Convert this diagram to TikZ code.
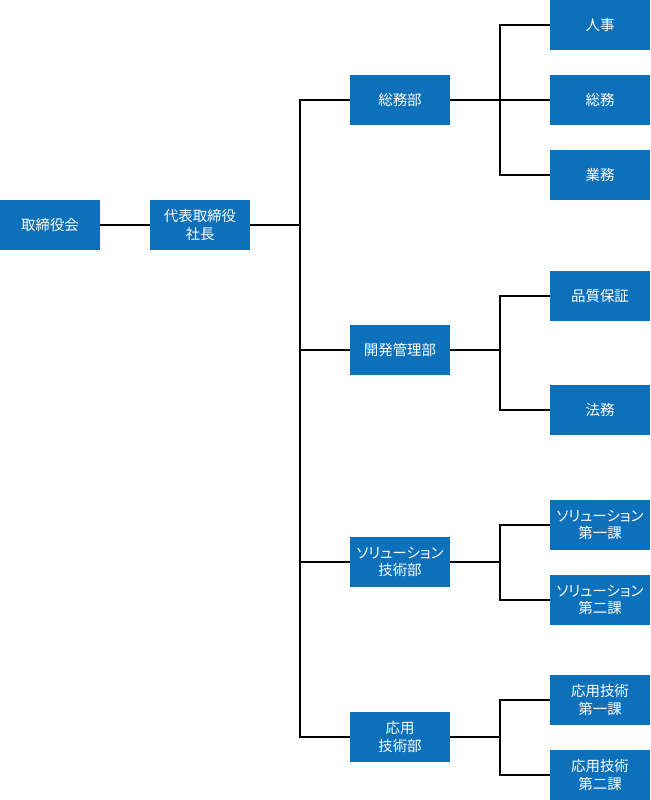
\documentclass[tikz,border=0pt]{standalone}
\usepackage{fontspec}
\setmainfont{Noto Sans CJK JP}
\newfontfamily\kanafont[RawFeature=+palt]{Noto Sans CJK JP}
\definecolor{orgblue}{RGB}{12,112,186}
\tikzset{
  unit/.style={fill=orgblue,text=white,minimum width=2.5cm,minimum height=1.25cm,
    inner sep=0pt,align=center,font=\fontsize{10.3}{12.5}\selectfont},
  link/.style={line width=1.2pt,black}
}
\begin{document}
\begin{tikzpicture}[x=0.025cm,y=-0.025cm]
\useasboundingbox (0,0) rectangle (650,800);
%\draw[step=50,gray,very thin] (0,0) grid (650,800);
\node[unit] (board) at (50,225) {取締役会};
\node[unit] (ceo) at (200,225) {代表取締役\\社長};
\node[unit] (soumubu) at (400,100) {総務部};
\node[unit] (kanribu) at (400,350) {開発管理部};
\node[unit] (solbu) at (400,562) {{\kanafont ソリューション}\\技術部};
\node[unit] (oyobu) at (400,737) {応用\\技術部};
\node[unit] (jinji) at (600,25) {人事};
\node[unit] (soumu) at (600,100) {総務};
\node[unit] (gyomu) at (600,175) {業務};
\node[unit] (hinshitsu) at (600,296) {品質保証};
\node[unit] (homu) at (600,410) {法務};
\node[unit] (sol1) at (600,525) {{\kanafont ソリューション}\\第一課};
\node[unit] (sol2) at (600,600) {{\kanafont ソリューション}\\第二課};
\node[unit] (oyo1) at (600,700) {応用技術\\第一課};
\node[unit] (oyo2) at (600,775) {応用技術\\第二課};
\coordinate (trunk) at (300,225);
\coordinate (j1) at (500,100);
\coordinate (j2) at (500,350);
\coordinate (j3) at (500,562);
\coordinate (j4) at (500,737);
\draw[link] (board) -- (ceo);
\draw[link] (ceo) -- (trunk);
\draw[link] (trunk) |- (soumubu.west);
\draw[link] (trunk) |- (kanribu.west);
\draw[link] (trunk) |- (solbu.west);
\draw[link] (trunk) |- (oyobu.west);
\draw[link] (soumubu) -- (j1);
\draw[link] (j1) |- (jinji.west);
\draw[link] (j1) -- (soumu.west);
\draw[link] (j1) |- (gyomu.west);
\draw[link] (kanribu) -- (j2);
\draw[link] (j2) |- (hinshitsu.west);
\draw[link] (j2) |- (homu.west);
\draw[link] (solbu) -- (j3);
\draw[link] (j3) |- (sol1.west);
\draw[link] (j3) |- (sol2.west);
\draw[link] (oyobu) -- (j4);
\draw[link] (j4) |- (oyo1.west);
\draw[link] (j4) |- (oyo2.west);
\end{tikzpicture}
\end{document}
